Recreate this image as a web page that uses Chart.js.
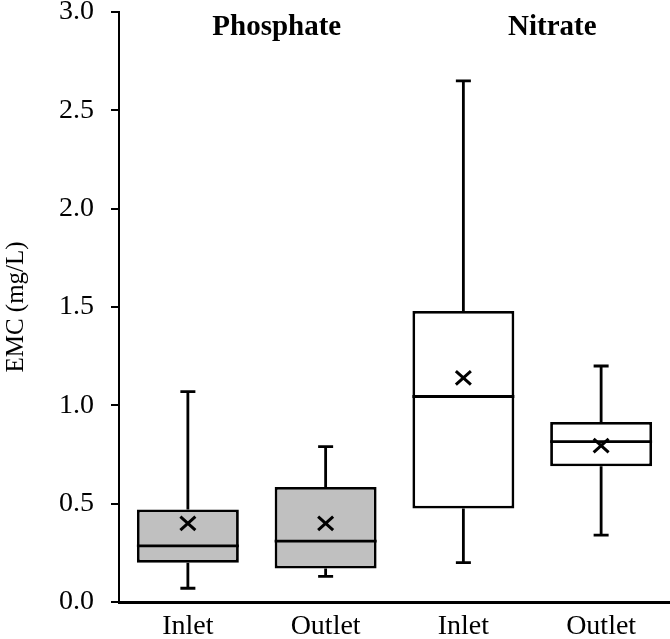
<!DOCTYPE html>
<html>
<head>
<meta charset="utf-8">
<script src="https://cdn.jsdelivr.net/npm/chart.js@4"></script>
<style>
  html, body { margin: 0; padding: 0; background: #fff; }
  #wrap { width: 670px; height: 639px; }
</style>
</head>
<body>
<div id="wrap"><canvas id="boxChart" width="670" height="639"></canvas></div>
<script>
// 数据
const categories = ['Inlet', 'Outlet', 'Inlet', 'Outlet'];
const groups = ['Phosphate', 'Nitrate'];
const minVals = [0.07, 0.13, 0.20, 0.34];
const q1Vals = [0.20, 0.17, 0.475, 0.69];
const medianVals = [0.285, 0.31, 1.045, 0.815];
const q3Vals = [0.47, 0.585, 1.48, 0.915];
const maxVals = [1.07, 0.79, 2.65, 1.20];
const meanVals = [0.40, 0.40, 1.14, 0.795];
const yTicks = [0, 0.5, 1.0, 1.5, 2.0, 2.5, 3.0];

const boxFill = ['#c0c0c0', '#c0c0c0', '#ffffff', '#ffffff'];
const serif = '"Liberation Serif", "Times New Roman", serif';

// 须线、中位数、均值标记和分组标题
const boxPlotExtras = {
    id: 'boxPlotExtras',
    afterDatasetsDraw(chart) {
        const ctx = chart.ctx;
        const yScale = chart.scales.y;
        const xScale = chart.scales.x;
        const meta = chart.getDatasetMeta(0);
        ctx.save();
        ctx.strokeStyle = '#000';
        ctx.lineWidth = 2.8;
        meta.data.forEach((bar, i) => {
            const cx = bar.x;
            const half = bar.width / 2;
            const capHalf = 7.5;
            const yMin = yScale.getPixelForValue(minVals[i]);
            const yQ1 = yScale.getPixelForValue(q1Vals[i]);
            const yQ3 = yScale.getPixelForValue(q3Vals[i]);
            const yMax = yScale.getPixelForValue(maxVals[i]);
            const yMed = yScale.getPixelForValue(medianVals[i]);
            const yMean = yScale.getPixelForValue(meanVals[i]);

            ctx.beginPath();
            ctx.moveTo(cx, yQ3); ctx.lineTo(cx, yMax);
            ctx.moveTo(cx - capHalf, yMax); ctx.lineTo(cx + capHalf, yMax);
            ctx.moveTo(cx, yQ1); ctx.lineTo(cx, yMin);
            ctx.moveTo(cx - capHalf, yMin); ctx.lineTo(cx + capHalf, yMin);
            ctx.moveTo(cx - half, yMed); ctx.lineTo(cx + half, yMed);
            ctx.stroke();

            // 均值 ×
            const m = 7.5;
            ctx.lineWidth = 3;
            ctx.beginPath();
            ctx.moveTo(cx - m, yMean - m * 0.9); ctx.lineTo(cx + m, yMean + m * 0.9);
            ctx.moveTo(cx - m, yMean + m * 0.9); ctx.lineTo(cx + m, yMean - m * 0.9);
            ctx.stroke();
            ctx.lineWidth = 2.8;
        });

        ctx.fillStyle = '#000';
        ctx.font = 'bold 29px ' + serif;
        ctx.textAlign = 'center';
        ctx.textBaseline = 'alphabetic';
        groups.forEach((g, k) => {
            const x = (xScale.getPixelForValue(k * 2) + xScale.getPixelForValue(k * 2 + 1)) / 2 + 20;
            ctx.fillText(g, x, 35);
        });
        ctx.restore();
    }
};

new Chart(document.getElementById('boxChart'), {
    type: 'bar',
    data: {
        labels: categories,
        datasets: [{
            data: q1Vals.map((q, i) => [q, q3Vals[i]]),
            backgroundColor: boxFill,
            borderColor: '#000',
            borderWidth: 2.8,
            borderSkipped: false,
            barPercentage: 0.74,
            categoryPercentage: 1.0
        }]
    },
    options: {
        responsive: false,
        animation: false,
        layout: { padding: { top: 12, right: 0, bottom: 0, left: 0 } },
        plugins: {
            legend: { display: false },
            tooltip: { enabled: false }
        },
        scales: {
            x: {
                grid: { display: true, drawOnChartArea: false, drawTicks: false, color: 'rgba(0,0,0,0)' },
                border: { display: true, color: '#000', width: 3 },
                ticks: { color: '#000', font: { family: serif, size: 28 }, padding: 8 },
                afterFit(scale) { scale.height = 37; scale.paddingLeft = 0; scale.paddingRight = 0; }
            },
            y: {
                min: 0,
                max: 3,
                afterBuildTicks(scale) { scale.ticks = yTicks.map(v => ({ value: v })); },
                grid: { display: true, drawOnChartArea: false, drawTicks: true, tickLength: 8, color: '#000', lineWidth: 2 },
                border: { display: true, color: '#000', width: 2 },
                ticks: {
                    color: '#000',
                    font: { family: serif, size: 28 },
                    padding: 17,
                    callback: v => Number(v).toFixed(1)
                },
                title: {
                    display: true,
                    text: 'EMC (mg/L)',
                    color: '#000',
                    font: { family: serif, size: 25 },
                    padding: { top: 1, bottom: 0 }
                },
                afterFit(scale) { scale.width = 119; scale.paddingTop = 0; scale.paddingBottom = 0; }
            }
        }
    },
    plugins: [boxPlotExtras]
});
</script>
</body>
</html>
